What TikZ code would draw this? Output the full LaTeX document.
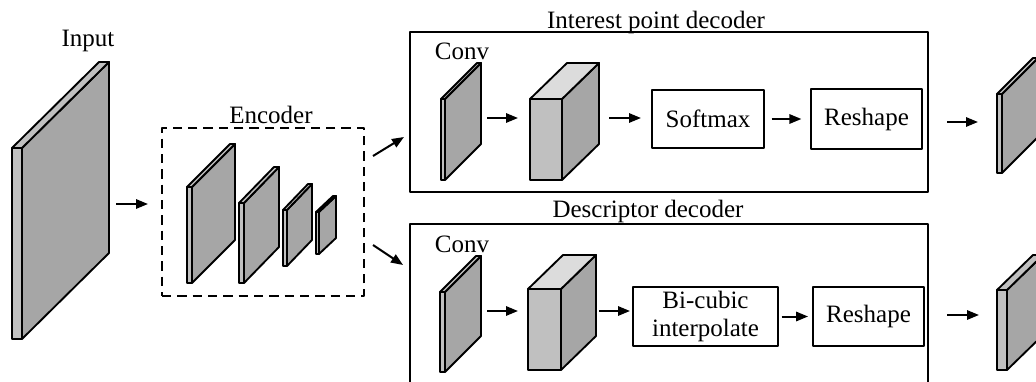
\documentclass[tikz,border=0pt]{standalone}
\usepackage{fontspec}
\setmainfont{Liberation Serif}
\usetikzlibrary{arrows.meta}
\definecolor{sidegray}{HTML}{A6A6A6}
\definecolor{frontgray}{HTML}{C0C0C0}
\definecolor{topgray}{HTML}{DCDCDC}
% #1 x, #2 y (top of front face, image coords), #3 w, #4 h, #5 dx, #6 dy, #7 top colour, #8 name
\newcommand\slabdraw[8]{%
  \filldraw[fill=sidegray] ({#1+#3},{#2}) -- ({#1+#3+#5},{#2-#6}) -- ({#1+#3+#5},{#2+#4-#6}) -- ({#1+#3},{#2+#4}) -- cycle;
  \filldraw[fill=#7] (#1,#2) -- ({#1+#5},{#2-#6}) -- ({#1+#3+#5},{#2-#6}) -- ({#1+#3},{#2}) -- cycle;
  \filldraw[fill=frontgray] (#1,#2) rectangle ({#1+#3},{#2+#4});
  \coordinate (#8) at ({#1+(#3+#5)/2},{#2+(#4-#6)/2});
}
\begin{document}
\begin{tikzpicture}[x=0.75pt,y=-0.75pt,line width=1.4pt,line join=round,
  font=\fontsize{18.75}{21}\selectfont,
  lbl/.style={anchor=base,inner sep=0pt},
  opbox/.style={draw,inner sep=2pt,align=center},
  arr/.style={-{Triangle[length=9pt,width=7pt]},line width=1.5pt}]
\useasboundingbox (0,0) rectangle (1036,382);
\clip (0,0) rectangle (1036,382);

% labels
\node[lbl] (linput) at (88,46) {Input};
\node[lbl] (lenc) at (271,123) {Encoder};
\node[lbl] (lint) at (656,28) {Interest point decoder};
\node[lbl] (ldesc) at (648,217) {Descriptor decoder};

% containers
\node[draw,dashed,dash pattern=on 7pt off 4.5pt,minimum width=151.5pt,minimum height=126pt,inner sep=0pt] (enc) at (263,212) {};
\node[draw,minimum width=388.5pt,minimum height=120pt,inner sep=0pt] (intbox) at (669,112) {};
\node[draw,minimum width=388.5pt,minimum height=132pt,inner sep=0pt] (descbox) at (669,312) {};

\node[lbl] (lconv1) at (462,60) {Conv};
\node[lbl] (lconv2) at (462,252) {Conv};

% input slab
\slabdraw{12}{148}{10}{191}{87}{86}{frontgray}{input}
% encoder slabs
\slabdraw{187}{187}{5}{96}{43}{43}{frontgray}{e1}
\slabdraw{239}{203}{5}{80}{35}{36}{frontgray}{e2}
\slabdraw{283}{210}{4}{56}{25}{26}{frontgray}{e3}
\slabdraw{316}{212}{3}{42}{17}{16}{frontgray}{e4}

% interest point decoder
\slabdraw{441}{99}{4}{81}{36}{36}{frontgray}{ic}
\slabdraw{530}{99}{32}{81}{37}{36}{topgray}{ib}
\node[opbox,minimum width=84pt,minimum height=43.5pt] (soft) at (708,119) {Softmax};
\node[opbox,minimum width=83.25pt,minimum height=45pt] (resh1) at (866.5,119) {Reshape};
\slabdraw{997}{94}{5}{79}{36}{36}{frontgray}{iout}

% descriptor decoder
\slabdraw{440}{292}{5}{80}{36}{36}{frontgray}{dc}
\slabdraw{528}{289}{33}{81}{35}{34}{topgray}{db}
\node[opbox,minimum width=108.75pt,minimum height=44.25pt] (bicub) at (705.5,316.5) {Bi-cubic\\interpolate};
\node[opbox,minimum width=83.25pt,minimum height=44.25pt] (resh2) at (868.5,316.5) {Reshape};
\slabdraw{997}{290}{10}{80}{36}{35}{frontgray}{dout}

% arrow end points
\coordinate (a1s) at (116,204); \coordinate (a1e) at (148,204);
\coordinate (a2s) at (373,156); \coordinate (a2e) at (404,137);
\coordinate (a3s) at (373,245); \coordinate (a3e) at (403,265);
\coordinate (t1s) at (487,118); \coordinate (t1e) at (518,118);
\coordinate (t2s) at (609,118); \coordinate (t2e) at (641,118);
\coordinate (t4s) at (947,122); \coordinate (t4e) at (978,122);
\coordinate (b1s) at (487,311); \coordinate (b1e) at (518,311);
\coordinate (b2s) at (599,311); \coordinate (b2e) at (630,311);
\coordinate (b4s) at (947,315); \coordinate (b4e) at (979,315);

\draw[arr] (a1s) -- (a1e);
\draw[arr] (a2s) -- (a2e);
\draw[arr] (a3s) -- (a3e);
\draw[arr] (t1s) -- (t1e);
\draw[arr] (t2s) -- (t2e);
\draw[arr,shorten <=5pt,shorten >=6.5pt] (soft.east) -- (resh1.west);
\draw[arr] (t4s) -- (t4e);
\draw[arr] (b1s) -- (b1e);
\draw[arr] (b2s) -- (b2e);
\draw[arr,shorten <=2pt,shorten >=3pt] (bicub.east) -- (resh2.west);
\draw[arr] (b4s) -- (b4e);
\end{tikzpicture}
\end{document}
